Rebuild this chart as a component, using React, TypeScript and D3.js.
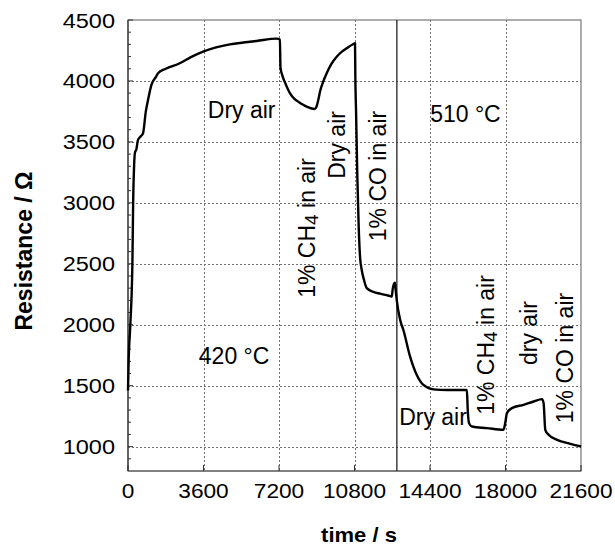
import React from "react";
import * as d3 from "d3";

// Sensor resistance vs. time (s)
const timeS = [
  0, 30, 115, 210, 245, 290, 330, 400, 477, 600, 716, 850, 955, 1117, 1356, 1432, 1800,
  2468, 3000, 3581, 4200, 4856, 5500, 6131, 7086, 7244, 7270, 7350, 7480, 7720, 7950,
  8120, 8520, 8900, 8990, 9073, 9154, 9300, 9474, 9700, 9951, 10200, 10429, 10744, 10825,
  10840, 10873, 10935, 11000, 11064, 11145, 11250, 11384, 11700, 12020, 12400, 12577,
  12620, 12680, 12730, 12760, 12816, 12975, 13131, 13451, 13771, 14086, 14564, 15204,
  16159, 16200, 16260, 16397, 17114, 17906, 17987, 18068, 18307, 18861, 19339, 19740,
  19816, 19897, 20055, 20456, 21092, 21600,
];
const resistance = [
  1460, 1700, 2015, 2507, 3000, 3300, 3410, 3440, 3516, 3545, 3570, 3750, 3844, 3967,
  4040, 4063, 4100, 4145, 4195, 4240, 4275, 4300, 4315, 4328, 4347, 4340, 4110, 4050,
  3990, 3900, 3850, 3830, 3790, 3770, 3790, 3844, 3912, 3990, 4063, 4140, 4199, 4240,
  4268, 4303, 4310, 4035, 3762, 3215, 2804, 2558, 2449, 2370, 2300, 2270, 2255, 2240,
  2232, 2290, 2335, 2345, 2290, 2200, 2040, 1957, 1739, 1588, 1506, 1470, 1465, 1465,
  1300, 1193, 1165, 1152, 1138, 1193, 1275, 1316, 1343, 1370, 1390, 1358, 1138, 1097,
  1056, 1023, 1001,
];

const xTicks = [0, 3600, 7200, 10800, 14400, 18000, 21600];
const yTicks = [1000, 1500, 2000, 2500, 3000, 3500, 4000, 4500];
const tempChangeTime = 12820;

// Horizontal annotations: [text, time at left edge, resistance at baseline]
const flatLabels: [string, number, number][] = [
  ["Dry air", 3806, 3696],
  ["420 \u00b0C", 3376, 1678],
  ["510 \u00b0C", 14407, 3663],
  ["Dry air", 12930, 1177],
];
// Vertical annotations: [prefix, subscript, suffix, time at baseline, resistance at centre]
const vertLabels: [string, string, string, number, number][] = [
  ["1% CH", "4", " in air", 8914, 2794],
  ["Dry air", "", "", 10347, 3475],
  ["1% CO in air", "", "", 12305, 3220],
  ["1% CH", "4", " in air", 17463, 1834],
  ["dry air", "", "", 19516, 1932],
  ["1% CO in air", "", "", 21235, 1727],
];

const W = 615;
const H = 549;
const M = { left: 128, right: 581, top: 20, bottom: 471 };
const FONT = "'Liberation Sans', Arial, Helvetica, sans-serif";

export default function App() {
  const x = d3.scaleLinear().domain([0, 21600]).range([M.left, M.right]);
  const y = d3.scaleLinear().domain([800, 4500]).range([M.bottom, M.top]);
  const minorY = d3.range(900, 4500, 100).filter((v) => v % 500 !== 0);
  const px = (v: number) => Math.round(v) + 0.5;

  const pts = timeS.map((t, i) => [t, resistance[i]] as [number, number]);
  const line = d3
    .line<[number, number]>()
    .x((d) => x(d[0]))
    .y((d) => y(d[1]))
    .curve(d3.curveMonotoneX);

  return (
    <svg
      width={W}
      height={H}
      style={{ position: "absolute", left: 0, top: 0, background: "#fff" }}
      fontFamily={FONT}
    >
      {/* grid */}
      <g stroke="#707070" strokeWidth={1} strokeDasharray="2,2" shapeRendering="crispEdges">
        {xTicks.slice(1, -1).map((t) => (
          <line key={"gx" + t} x1={px(x(t))} x2={px(x(t))} y1={M.top} y2={M.bottom} />
        ))}
        {yTicks.slice(0, -1).map((v) => (
          <line key={"gy" + v} x1={M.left} x2={M.right} y1={px(y(v))} y2={px(y(v))} />
        ))}
      </g>

      {/* frame */}
      <rect
        x={M.left}
        y={M.top}
        width={M.right - M.left}
        height={M.bottom - M.top}
        fill="none"
        stroke="#777"
        strokeWidth={1.2}
      />
      <line x1={M.left} x2={M.left} y1={M.top} y2={M.bottom} stroke="#333" strokeWidth={1.2} />
      <line x1={M.left} x2={M.right} y1={M.bottom} y2={M.bottom} stroke="#555" strokeWidth={1.2} />

      {/* ticks */}
      <g stroke="#333" strokeWidth={1}>
        {yTicks.map((v) => (
          <line key={"ty" + v} x1={M.left} x2={M.left + 5} y1={y(v)} y2={y(v)} />
        ))}
        {minorY.map((v) => (
          <line key={"my" + v} x1={M.left} x2={M.left + 3} y1={y(v)} y2={y(v)} />
        ))}
        {xTicks.map((t) => (
          <line key={"tx" + t} x1={x(t)} x2={x(t)} y1={M.bottom} y2={M.bottom - 6} />
        ))}
      </g>

      {/* temperature change marker */}
      <line
        x1={x(tempChangeTime)}
        x2={x(tempChangeTime)}
        y1={M.top}
        y2={M.bottom}
        stroke="#222"
        strokeWidth={1.3}
      />

      {/* data */}
      <path d={line(pts) || ""} fill="none" stroke="#000" strokeWidth={2.4} strokeLinejoin="round" />

      {/* tick labels */}
      <g fontSize={21} fill="#000">
        {yTicks.map((v) => (
          <text
            key={"ly" + v}
            transform={`translate(${M.left - 13},${y(v) + 7.5}) scale(1.12,1)`}
            textAnchor="end"
          >
            {v}
          </text>
        ))}
        {xTicks.map((t) => (
          <text
            key={"lx" + t}
            transform={`translate(${x(t)},${M.bottom + 26.5}) scale(1.08,1)`}
            textAnchor="middle"
          >
            {t}
          </text>
        ))}
      </g>

      {/* axis titles */}
      <text
        transform={`translate(359,542) scale(1.1,1)`}
        textAnchor="middle"
        fontSize={20}
        fontWeight="bold"
      >
        time / s
      </text>
      <text
        transform={`translate(32,251) rotate(-90)`}
        textAnchor="middle"
        fontSize={23}
        fontWeight="bold"
      >
        Resistance / Ω
      </text>

      {/* condition annotations */}
      <g fontSize={23} fill="#000">
        {flatLabels.map(([s, t, r], i) => (
          <text key={"fl" + i} x={x(t)} y={y(r)}>
            {s}
          </text>
        ))}
        {vertLabels.map(([a, sub, b, t, r], i) => (
          <text
            key={"vl" + i}
            transform={`translate(${x(t)},${y(r)}) rotate(-90)`}
            textAnchor="middle"
          >
            {a}
            {sub && (
              <tspan fontSize={19} dy={3}>
                {sub}
              </tspan>
            )}
            {b && <tspan dy={sub ? -3 : 0}>{b}</tspan>}
          </text>
        ))}
      </g>
    </svg>
  );
}
